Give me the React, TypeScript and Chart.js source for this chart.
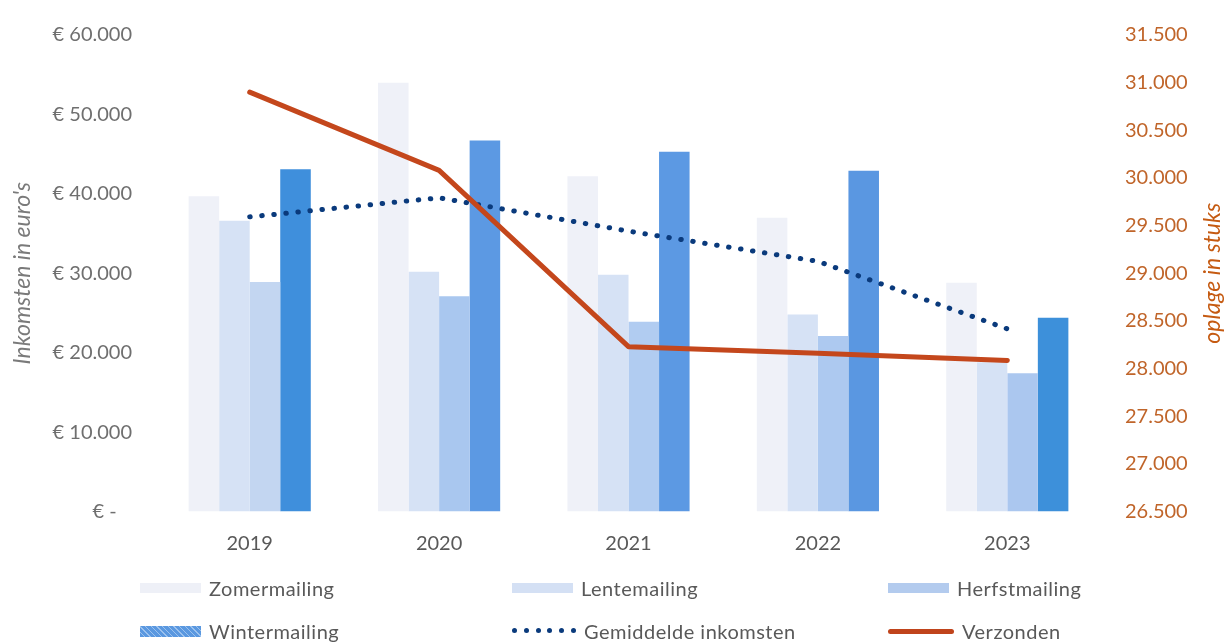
import React, { useEffect, useRef } from 'react';
import { Chart, registerables } from 'chart.js';

Chart.register(...registerables);

const years = ['2019', '2020', '2021', '2022', '2023'];
const zomer = [39700, 54000, 42200, 37000, 28800];
const lente = [36600, 30200, 29800, 24800, 18800];
const herfst = [28900, 27100, 23900, 22100, 17400];
const winter = [43100, 46700, 45300, 42900, 24400];
const gemiddeld = [37100, 39500, 35300, 31500, 23000];
const verzonden = [30900, 30080, 28230, 28160, 28085];

const leftMin = 0;
const leftMax = 60000;
const leftStep = 10000;
const rightMin = 26500;
const rightMax = 31500;
const rightStep = 500;

const leftTitle = "Inkomsten in euro's";
const rightTitle = 'oplage in stuks';

const FONT = 'Lato, "Open Sans", sans-serif';

const fmt = (v: number) => String(Math.round(v)).replace(/\B(?=(\d{3})+(?!\d))/g, '.');

const titlesPlugin = {
  id: 'sideTitles',
  afterDraw(chart: any) {
    const ctx = chart.ctx;
    const area = chart.chartArea;
    const cy = (area.top + area.bottom) / 2;
    ctx.save();
    ctx.font = 'italic 23px ' + FONT;
    ctx.textAlign = 'center';
    ctx.textBaseline = 'middle';
    ctx.fillStyle = '#7a7a7a';
    ctx.translate(23, cy);
    ctx.rotate(-Math.PI / 2);
    ctx.fillText(leftTitle, 0, 0);
    ctx.restore();
    ctx.save();
    ctx.font = 'italic 23px ' + FONT;
    ctx.textAlign = 'center';
    ctx.textBaseline = 'middle';
    ctx.fillStyle = '#c55a11';
    ctx.translate(1213, cy);
    ctx.rotate(-Math.PI / 2);
    ctx.fillText(rightTitle, 0, 0);
    ctx.restore();
  },
};

const legendItems = [
  { label: 'Zomermailing', kind: 'box', color: '#eef0f7' },
  { label: 'Lentemailing', kind: 'box', color: '#d4e0f4' },
  { label: 'Herfstmailing', kind: 'box', color: '#b3cbee' },
  { label: 'Wintermailing', kind: 'pattern', color: '#5a98e0' },
  { label: 'Gemiddelde inkomsten', kind: 'dots', color: '#0a3a7c' },
  { label: 'Verzonden', kind: 'line', color: '#c0441c' },
];

const colX = [140, 512, 888];
const rowY = [588, 631];

function Swatch({ kind, color }: { kind: string; color: string }) {
  if (kind === 'box') {
    return <div style={{ width: 61, height: 10, background: color }} />;
  }
  if (kind === 'pattern') {
    return (
      <div
        style={{
          width: 61,
          height: 11,
          background: `repeating-linear-gradient(45deg, ${color} 0px, ${color} 3px, #9cc2ee 3px, #9cc2ee 4px)`,
        }}
      />
    );
  }
  if (kind === 'dots') {
    return (
      <div style={{ width: 64, height: 6, display: 'flex', justifyContent: 'space-between' }}>
        {[0, 1, 2, 3, 4, 5].map((i) => (
          <div key={i} style={{ width: 5, height: 5, borderRadius: 3, background: color }} />
        ))}
      </div>
    );
  }
  return <div style={{ width: 66, height: 5, borderRadius: 3, background: color }} />;
}

export default function App() {
  const canvasRef = useRef<HTMLCanvasElement | null>(null);

  useEffect(() => {
    if (!canvasRef.current) return;
    const chart = new Chart(canvasRef.current, {
      type: 'bar',
      data: {
        labels: years,
        datasets: [
          {
            type: 'line',
            label: 'Verzonden',
            data: verzonden,
            yAxisID: 'y1',
            borderColor: '#c4471c',
            borderWidth: 5,
            pointRadius: 0,
            tension: 0,
            order: 0,
            borderCapStyle: 'round',
            borderJoinStyle: 'round',
          } as any,
          {
            type: 'line',
            label: 'Gemiddelde inkomsten',
            data: gemiddeld,
            yAxisID: 'y',
            borderColor: '#0a3a7c',
            borderWidth: 5,
            borderDash: [0.5, 11.6],
            borderCapStyle: 'round',
            pointRadius: 0,
            tension: 0,
            order: 1,
          } as any,
          {
            label: 'Zomermailing',
            data: zomer,
            yAxisID: 'y',
            backgroundColor: '#eff1f8',
            order: 2,
          },
          {
            label: 'Lentemailing',
            data: lente,
            yAxisID: 'y',
            backgroundColor: '#d6e2f5',
            order: 2,
          },
          {
            label: 'Herfstmailing',
            data: herfst,
            yAxisID: 'y',
            backgroundColor: ['#c3d6f1', '#a9c7ef', '#b1ccf1', '#adc9f0', '#abc7ef'],
            order: 2,
          },
          {
            label: 'Wintermailing',
            data: winter,
            yAxisID: 'y',
            backgroundColor: ['#3f8fdc', '#5c99e3', '#5c99e3', '#5a97e1', '#3d90da'],
            order: 2,
          },
        ],
      },
      options: {
        animation: false,
        responsive: true,
        maintainAspectRatio: false,
        events: [],
        layout: { padding: { top: 30, left: 0, right: 0, bottom: 0 } },
        datasets: {
          bar: { barPercentage: 1, categoryPercentage: 0.645 },
        },
        plugins: {
          legend: { display: false },
          tooltip: { enabled: false },
          title: { display: false },
        },
        scales: {
          x: {
            grid: { display: false, drawTicks: false },
            border: { display: false },
            ticks: {
              color: '#595959',
              font: { family: FONT, size: 20 },
              padding: 20,
            },
            afterFit: (scale: any) => {
              scale.height = 130.5;
            },
          },
          y: {
            position: 'left',
            min: leftMin,
            max: leftMax,
            grid: { display: false, drawTicks: false },
            border: { display: false },
            ticks: {
              stepSize: leftStep,
              color: '#6f6f6f',
              font: { family: FONT, size: 20 },
              padding: 23,
              callback: (v: any) => (Number(v) === 0 ? '€ -   ' : '€ ' + fmt(Number(v))),
            },
            afterFit: (scale: any) => {
              scale.width = 155;
            },
          },
          y1: {
            position: 'right',
            min: rightMin,
            max: rightMax,
            grid: { display: false, drawTicks: false },
            border: { display: false },
            ticks: {
              stepSize: rightStep,
              color: '#c0652a',
              font: { family: FONT, size: 20 },
              padding: 23,
              callback: (v: any) => fmt(Number(v)),
            },
            afterFit: (scale: any) => {
              scale.width = 123;
            },
          },
        },
      } as any,
      plugins: [titlesPlugin],
    });
    return () => chart.destroy();
  }, []);

  return (
    <div
      style={{
        position: 'fixed',
        left: 0,
        top: 0,
        width: 1225,
        height: 642,
        background: '#ffffff',
        fontFamily: FONT,
      }}
    >
      <canvas ref={canvasRef} style={{ position: 'absolute', left: 0, top: 0, width: 1225, height: 642 }} />
      {legendItems.map((item, i) => {
        const col = i % 3;
        const row = Math.floor(i / 3);
        return (
          <div
            key={item.label}
            style={{
              position: 'absolute',
              left: colX[col],
              top: rowY[row] - 14,
              height: 28,
              display: 'flex',
              alignItems: 'center',
              gap: 8,
              fontSize: 20,
              letterSpacing: 0.5,
              color: '#595959',
              whiteSpace: 'nowrap',
            }}
          >
            <Swatch kind={item.kind} color={item.color} />
            <span>{item.label}</span>
          </div>
        );
      })}
    </div>
  );
}
